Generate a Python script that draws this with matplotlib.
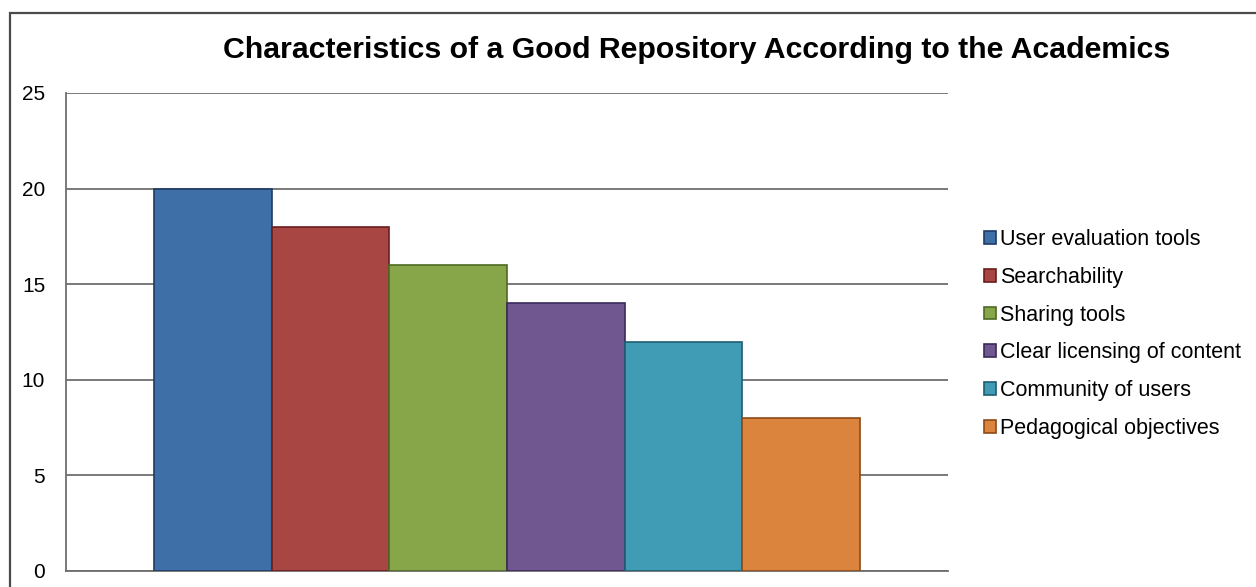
import matplotlib
matplotlib.use("Agg")
import matplotlib.pyplot as plt
from matplotlib.patches import Rectangle
import numpy as np

plt.rcParams["font.family"] = ["Liberation Sans", "DejaVu Sans"]

SERIES = ["User evaluation tools", "Searchability", "Sharing tools",
          "Clear licensing of content", "Community of users", "Pedagogical objectives"]
VALUES = [20, 18, 16, 14, 12, 8]
COLORS = ["#3E6FA6", "#A84643", "#87A64A", "#705790", "#409CB4", "#DB843D"]
EDGES = ["#1F3B66", "#6A1E1C", "#4F6A22", "#3A2A5A", "#1F5E72", "#8E4A16"]
YTICKS = [0, 5, 10, 15, 20, 25]

fig = plt.figure(figsize=(12.56, 5.87), dpi=100)
# outer chart frame (only top and left visible in the source)
fig.patches.append(Rectangle((10 / 1256, -0.1), 1.2, 1 - 13 / 587 + 0.1,
                             transform=fig.transFigure, fill=False,
                             edgecolor="#4a4a4a", lw=1.6))

ax = fig.add_axes([66 / 1256, 1 - 571 / 587, (948 - 66) / 1256, (571 - 93) / 587])

x = np.arange(len(VALUES)) - (len(VALUES) - 1) / 2
for xi, v, c, e, lab in zip(x, VALUES, COLORS, EDGES, SERIES):
    ax.bar(xi, v, width=1.0, color=c, edgecolor=e, lw=1.2, label=lab, zorder=3)

ax.set_xlim(-3.75, 3.75)
ax.set_ylim(0, 25)
ax.set_yticks(YTICKS)
ax.set_yticklabels([str(t) for t in YTICKS], fontsize=15)
ax.set_xticks([])
ax.tick_params(axis="y", length=0, pad=15)
ax.grid(axis="y", color="#6e6e6e", lw=1.3, zorder=0)
for s in ("right", "top"):
    ax.spines[s].set_visible(False)
ax.spines["left"].set_color("#6e6e6e")
ax.spines["bottom"].set_color("#6e6e6e")
ax.spines["left"].set_linewidth(1.3)
ax.spines["bottom"].set_linewidth(1.3)

fig.text(0.555, 1 - 50 / 587, "Characteristics of a Good Repository According to the Academics",
         ha="center", va="center", fontsize=21.8, fontweight="bold")

handles, labels = ax.get_legend_handles_labels()
leg = fig.legend(handles, labels, loc="center left", bbox_to_anchor=(0.768, 1 - 334 / 587),
                 frameon=False, fontsize=15.5, handlelength=0.55, handleheight=0.55,
                 handletextpad=0.2, labelspacing=0.78)

fig.savefig("out.png", dpi=100)
